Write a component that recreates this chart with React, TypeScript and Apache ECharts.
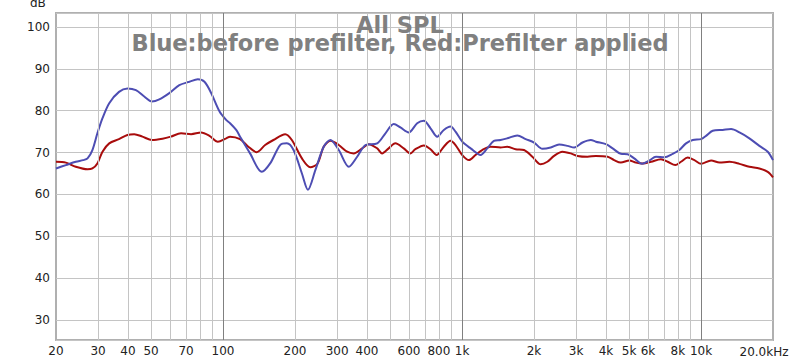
import React, { useEffect, useRef } from "react";
import * as echarts from "echarts";

const blueFreq = [20, 22, 24.2, 26, 27.1, 28.4, 29.8, 31.3, 33.4, 36.7, 39.8, 43.2, 46.8, 50.4, 54.1, 59.6, 65.6, 72.3, 78.4, 83.6, 89.2, 96.7, 103, 107, 113.5, 117.8, 129.7, 145.2, 157.4, 173.3, 184.9, 197.2, 213.8, 226.5, 243.3, 263.7, 281.3, 304.9, 335.9, 364, 394.5, 441.6, 478, 518, 552, 598, 649, 692, 738, 787, 839, 895, 939, 1002, 1086, 1195, 1275, 1359, 1449, 1546, 1703, 1846, 2001, 2168, 2350, 2547, 2761, 2945, 3192, 3459, 3630, 4000, 4266, 4617, 4930, 5253, 5657, 6072, 6477, 7021, 7609, 8111, 8653, 9230, 10000, 10494, 11192, 12325, 13357, 14476, 15930, 17540, 19010, 20000];
const blueDb = [66.2, 67.0, 67.8, 68.2, 68.6, 70.6, 74.6, 78.2, 81.8, 84.5, 85.3, 84.9, 83.4, 82.2, 82.7, 84.2, 86.1, 86.9, 87.5, 86.9, 84.2, 79.8, 77.8, 77.0, 75.4, 73.8, 69.8, 65.4, 67.4, 71.8, 72.2, 70.6, 65.0, 61.1, 65.8, 71.4, 73.0, 70.6, 66.6, 69.0, 71.8, 72.2, 74.6, 76.8, 76.0, 74.8, 77.0, 77.6, 75.8, 73.8, 75.4, 76.2, 75.0, 72.6, 71.0, 69.4, 71.0, 72.8, 73.0, 73.4, 74.1, 73.2, 72.4, 70.9, 71.2, 71.9, 71.6, 71.2, 72.4, 73.0, 72.6, 72.0, 71.0, 69.7, 69.6, 68.6, 67.3, 68.1, 69.0, 68.9, 69.7, 70.6, 72.2, 73.0, 73.2, 74.0, 75.2, 75.4, 75.6, 74.8, 73.4, 71.6, 70.2, 68.2];

const redFreq = [20, 22, 24.2, 27.1, 28.4, 29.8, 31.3, 33.4, 36.7, 39.8, 42.5, 46, 50.4, 55.8, 60.5, 66.7, 73.5, 80.9, 87.7, 95.1, 103, 107, 117.8, 127.6, 138.3, 150, 162.5, 182, 194, 213.8, 231.7, 248.6, 263.7, 281.3, 304.9, 330.6, 352, 382, 406.8, 441.6, 462.7, 493, 526, 570, 608, 638, 692, 738, 782, 839, 895, 939, 1002, 1069, 1138, 1214, 1316, 1449, 1546, 1676, 1816, 1969, 2133, 2275, 2427, 2630, 2851, 3041, 3350, 3630, 4065, 4327, 4617, 5010, 5339, 5698, 6178, 6796, 7250, 7806, 8240, 8792, 9379, 10000, 11019, 11946, 13157, 14476, 15930, 17540, 19010, 20000];
const redDb = [67.8, 67.6, 66.6, 66.0, 66.2, 67.4, 70.2, 72.2, 73.2, 74.2, 74.4, 73.8, 73.0, 73.3, 73.8, 74.6, 74.4, 74.8, 74.0, 72.6, 73.4, 73.8, 73.2, 71.4, 70.1, 71.8, 73.0, 74.4, 73.0, 68.6, 66.5, 67.4, 71.4, 72.8, 71.8, 70.2, 69.8, 71.0, 72.0, 71.0, 69.8, 71.0, 72.2, 71.0, 69.8, 70.8, 71.7, 70.8, 69.4, 71.4, 72.8, 71.8, 69.4, 68.2, 69.4, 70.6, 71.4, 71.2, 71.4, 70.8, 70.6, 69.0, 67.2, 67.8, 69.2, 70.2, 69.8, 69.2, 69.0, 69.2, 69.0, 68.2, 67.6, 68.1, 67.6, 67.4, 67.8, 68.4, 67.8, 67.0, 67.8, 68.8, 68.2, 67.3, 68.1, 67.6, 67.8, 67.3, 66.6, 66.2, 65.4, 64.1];

const minorGridFreqs = [30, 40, 50, 60, 70, 80, 90, 200, 300, 400, 500, 600, 700, 800, 900, 2000, 3000, 4000, 5000, 6000, 7000, 8000, 9000];
const decadeGridFreqs = [100, 1000, 10000];
const xLabelFreqs = [20, 30, 40, 50, 70, 100, 200, 300, 400, 600, 800, 1000, 2000, 3000, 4000, 5000, 6000, 8000, 10000];
const xLabelTexts = ["20", "30", "40", "50", "70", "100", "200", "300", "400", "600", "800", "1k", "2k", "3k", "4k", "5k", "6k", "8k", "10k"];
const lastXLabel = "20.0kHz";
const titleLines = ["All SPL", "Blue:before prefilter, Red:Prefilter applied"];

const FONT = "DejaVu Sans";

export default function App() {
  const ref = useRef<HTMLDivElement>(null);
  useEffect(() => {
    if (!ref.current) return;
    const chart = echarts.init(ref.current, null, { renderer: "svg" });
    const gridLines: any[] = [];
    minorGridFreqs.forEach((f) =>
      gridLines.push({ xAxis: f, lineStyle: { color: "#c4c4c4", width: 1, type: "solid" }, label: { show: false } })
    );
    decadeGridFreqs.forEach((f) =>
      gridLines.push({ xAxis: f, lineStyle: { color: "#808080", width: 1, type: "solid" }, label: { show: false } })
    );
    const labelLines: any[] = xLabelFreqs.map((f, i) => ({
      xAxis: f,
      label: { formatter: xLabelTexts[i] },
    }));
    chart.setOption({
      animation: false,
      backgroundColor: "#ffffff",
      title: {
        text: titleLines.join("\n"),
        left: "center",
        top: 11,
        textStyle: { color: "#808080", fontSize: 22.5, lineHeight: 18, fontWeight: "bold", fontFamily: FONT },
      },
      grid: {
        left: 56,
        right: 27,
        top: 13,
        bottom: 20,
        show: true,
        borderColor: "#b0b0b0",
        borderWidth: 2,
        backgroundColor: "transparent",
      },
      xAxis: {
        type: "log",
        logBase: 10,
        min: 20,
        max: 20000,
        axisLine: { show: false },
        axisTick: { show: false },
        axisLabel: { show: false },
        splitLine: { show: false },
      },
      yAxis: {
        type: "value",
        min: 25.22,
        max: 103.34,
        splitNumber: 8,
        axisLine: { show: false },
        axisTick: { show: false },
        axisLabel: { color: "#222", fontSize: 12, fontFamily: FONT, margin: 6, showMinLabel: false, showMaxLabel: false },
        splitLine: { lineStyle: { color: "#c4c4c4", width: 1 } },
      },
      graphic: [
        { type: "text", left: 30, top: -3, style: { text: "dB", fontSize: 12, fontFamily: FONT, fill: "#222" } },
        { type: "text", x: 764, y: 352, style: { text: lastXLabel, fontSize: 12, fontFamily: FONT, fill: "#222", align: "center", verticalAlign: "middle" } },
      ],
      series: [
        {
          type: "line",
          data: [],
          z: 1,
          silent: true,
          markLine: { silent: true, symbol: ["none", "none"], animation: false, data: gridLines },
        },
        {
          type: "line",
          data: [],
          z: 1,
          silent: true,
          markLine: {
            silent: true,
            symbol: ["none", "none"],
            animation: false,
            lineStyle: { color: "rgba(255,255,255,0)", width: 1, type: "solid" },
            label: { show: true, position: "start", color: "#222", fontSize: 12, fontFamily: FONT, distance: 5 },
            data: labelLines,
          },
        },
        {
          name: "Prefilter applied",
          type: "line",
          data: redFreq.map((f, i) => [f, redDb[i]]),
          showSymbol: false,
          smooth: 0.3,
          z: 3,
          lineStyle: { color: "#a80c0c", width: 2 },
          itemStyle: { color: "#a80c0c" },
        },
        {
          name: "before prefilter",
          type: "line",
          data: blueFreq.map((f, i) => [f, blueDb[i]]),
          showSymbol: false,
          smooth: 0.3,
          z: 4,
          lineStyle: { color: "#4d4db3", width: 2 },
          itemStyle: { color: "#4d4db3" },
        },
      ],
    });
    return () => chart.dispose();
  }, []);
  return <div ref={ref} style={{ width: 800, height: 360, position: "absolute", left: 0, top: 0 }} />;
}
